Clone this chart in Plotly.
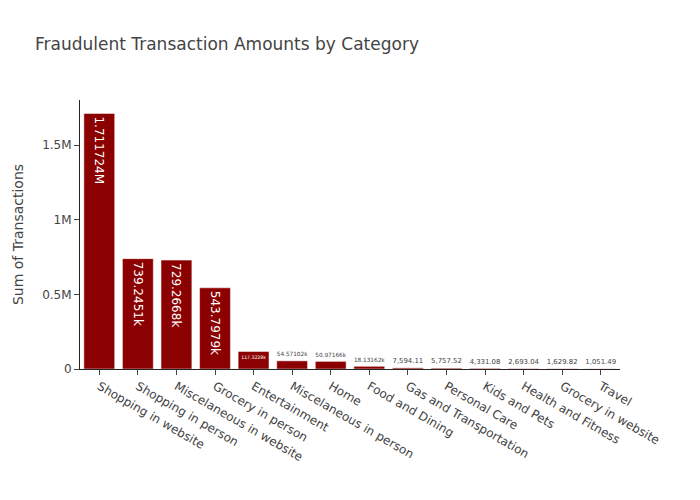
import plotly.graph_objects as go

categories = ['Shopping in website', 'Shopping in person', 'Miscelaneous in website',
              'Grocery in person', 'Entertainment', 'Miscelaneous in person', 'Home',
              'Food and Dining', 'Gas and Transportation', 'Personal Care',
              'Kids and Pets', 'Health and Fitness', 'Grocery in website', 'Travel']
amounts = [1711724, 739245.1, 729266.8, 543797.9, 117322.8, 54571.02, 50971.66,
           18131.62, 7594.11, 5757.52, 4331.08, 2693.04, 1629.82, 1051.49]

fig = go.Figure(go.Bar(
    x=categories,
    y=amounts,
    texttemplate='%{y}',
    textposition='auto',
    marker={'color': 'darkred'},
))

fig.update_layout(
    template='simple_white',
    title='Fraudulent Transaction Amounts by Category',
    width=700,
    height=500,
    margin={'l': 80, 'r': 80, 't': 100, 'b': 131},
    yaxis={'title': 'Sum of Transactions'},
    font={'color': '#444', 'family': 'DejaVu Sans'},
)

# no body margin, so the figure sits at the page corner
fig.write_html('out.html', config={'displayModeBar': False},
               post_script="document.body.style.margin='0';")
